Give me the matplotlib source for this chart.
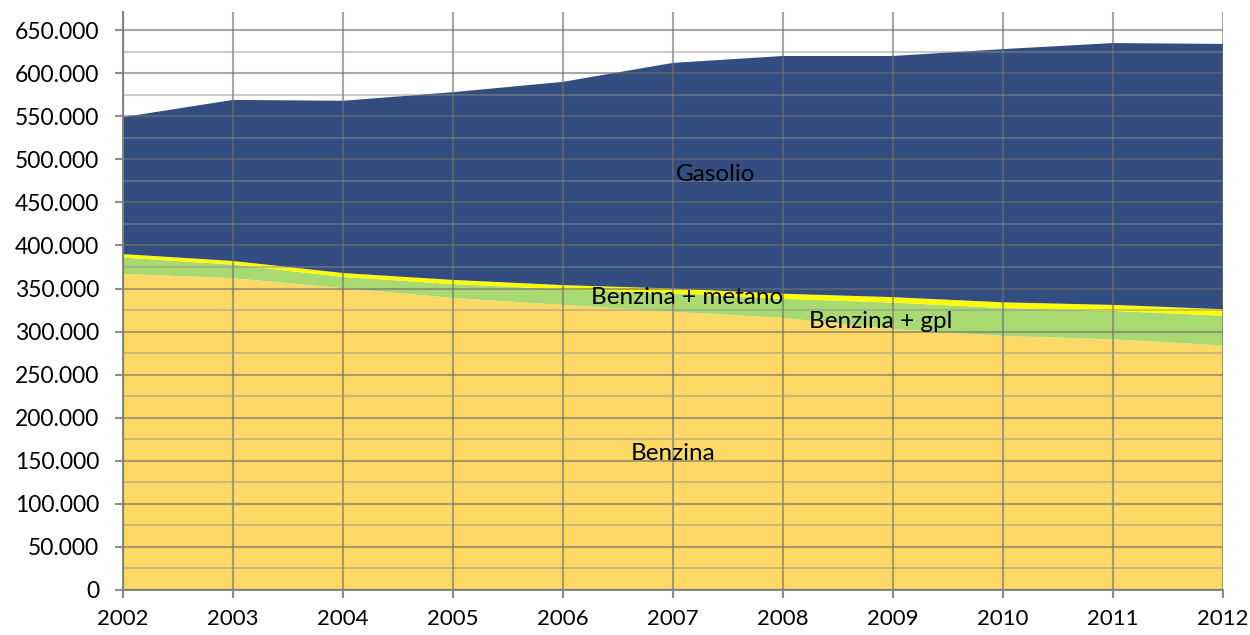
import numpy as np
import matplotlib
matplotlib.use('Agg')
import matplotlib.pyplot as plt
from matplotlib.ticker import FuncFormatter

# data (vehicles by fuel type)
years = [2002, 2003, 2004, 2005, 2006, 2007, 2008, 2009, 2010, 2011, 2012]
benzina = [367000, 362000, 350500, 339000, 331000, 323000, 316000, 303000, 295000, 291000, 284000]
benzina_gpl = [19000, 15800, 13000, 16200, 18000, 21500, 22000, 30700, 32400, 33000, 34500]
benzina_metano = [4000, 4200, 4500, 4800, 5000, 5500, 6000, 6300, 6600, 7000, 7500]
gasolio = [159000, 187000, 200000, 218000, 236000, 262000, 276000, 280000, 294000, 304000, 308000]

series_labels = ['Benzina', 'Benzina + gpl', 'Benzina + metano', 'Gasolio']
series_colors = ['#FFD966', '#A9D971', '#FFFF00', '#334D80']

plt.rcParams['font.family'] = ['Lato', 'DejaVu Sans']

fig = plt.figure(figsize=(12.5, 6.35), dpi=100)
ax = fig.add_axes([0.0984, 0.0709, 0.88, 0.9101])

ax.stackplot(years, benzina, benzina_gpl, benzina_metano, gasolio,
             colors=series_colors, labels=series_labels, linewidth=0)

ax.set_xlim(2002, 2012)
ax.set_ylim(0, 671000)
ax.set_xticks(years)
ax.set_yticks(np.arange(0, 650001, 50000))
ax.set_yticks(np.arange(25000, 650000, 50000), minor=True)
ax.yaxis.set_major_formatter(FuncFormatter(lambda v, p: f"{int(v):,}".replace(',', '.')))

# gridlines drawn over the areas, like the original
ax.set_axisbelow(False)
ax.grid(True, which='major', axis='both', color='#6f6f6f', alpha=0.6, linewidth=1.5)
ax.grid(True, which='minor', axis='y', color='#8f8f8f', alpha=0.45, linewidth=1.5)

for s in ['top', 'right']:
    ax.spines[s].set_visible(False)
for s in ['left', 'bottom']:
    ax.spines[s].set_color('#8c8c8c')
    ax.spines[s].set_linewidth(1.5)

ax.tick_params(axis='both', which='major', length=6, width=1.5, color='#8c8c8c',
               labelcolor='black')
ax.tick_params(axis='y', which='major', labelsize=16.5, pad=11)
ax.tick_params(axis='x', which='major', labelsize=16, pad=8)
ax.tick_params(axis='y', which='minor', length=0)

# series labels inside the areas
lbl = dict(fontsize=17.5, ha='center', va='center')
ax.text(2007.39, 482000, 'Gasolio', **lbl)
ax.text(2007.13, 340000, 'Benzina + metano', **lbl)
ax.text(2008.89, 312000, 'Benzina + gpl', **lbl)
ax.text(2007.0, 159000, 'Benzina', **lbl)

fig.savefig('out.png', dpi=100, facecolor='white')
